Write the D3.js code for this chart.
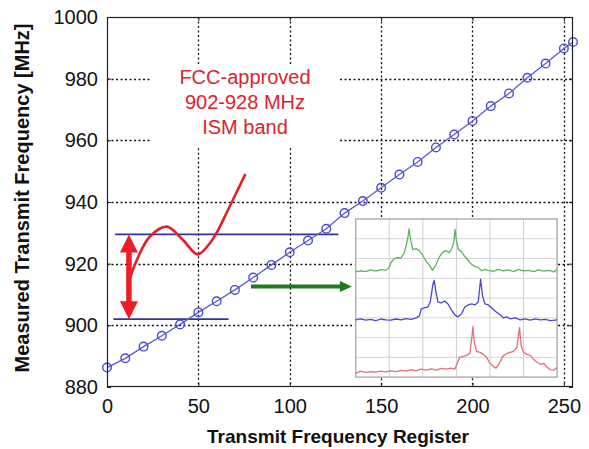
<!DOCTYPE html>
<html><head><meta charset="utf-8">
<script src="https://cdn.jsdelivr.net/npm/d3@7"></script>
<style>
html,body{margin:0;padding:0;background:#fff;}
svg{display:block;font-family:"Liberation Sans",Arial,sans-serif;}
</style></head>
<body>
<svg id="c" width="589" height="449"></svg>
<script>
// ---- data ----
const registers = [0,10,20,30,40,50,60,70,80,90,100,110,120,130,140,150,160,170,180,190,200,210,220,230,240,250,255];
const measuredMHz = [886.3,889.3,893.1,896.6,900.3,904.2,907.8,911.5,915.5,919.6,923.7,927.5,931.3,936.4,940.3,944.6,948.9,953.0,957.7,961.9,966.3,971.1,975.2,980.3,984.9,989.8,991.9];
const xTicks = [0,50,100,150,200,250];
const yTicks = [880,900,920,940,960,980,1000];
const bandLow = 902, bandHigh = 929.5;
const bandLowSpan = [3.5, 66.5];
const bandHighSpan = [4.4, 126.6];
const annotationLines = ["FCC-approved","902-928 MHz","ISM band"];
const annotationAnchor = [75.5, 962];
const redCurve = [[12.0,914.2],[16.3,921.2],[23.5,928.8],[32.7,932.0],[41.6,927.7],[49.6,923.0],[56.4,926.7],[60.8,930.9],[66.2,937.4],[75.5,948.8]];
const redArrowX = 12.0;
const greenArrow = [[78.8,912.6],[134.0,912.6]];
const insetBox = [136.1, 246.3, 934.5, 883.2]; // register left/right, MHz top/bottom
// inset spectra: [column 0..6, row 0..8 from top]
const specGreen = [[0,2.68],[0.15,2.62],[0.3,2.66],[0.45,2.58],[0.6,2.64],[0.75,2.56],[0.9,2.6],[1.0,2.45],[1.05,2.2],[1.15,2.0],[1.25,1.95],[1.35,1.98],[1.45,1.7],[1.55,1.0],[1.59,0.5],[1.63,1.0],[1.7,1.55],[1.8,1.5],[1.9,1.6],[2.0,1.85],[2.1,2.15],[2.2,2.35],[2.29,2.6],[2.38,2.35],[2.48,1.95],[2.58,1.7],[2.68,1.6],[2.78,1.7],[2.85,1.55],[2.92,1.2],[2.96,0.52],[3.0,1.1],[3.06,1.55],[3.15,1.65],[3.25,1.9],[3.35,2.1],[3.45,2.3],[3.55,2.4],[3.65,2.45],[3.75,2.62],[3.85,2.55],[3.95,2.6],[4.1,2.65],[4.25,2.55],[4.4,2.62],[4.55,2.58],[4.7,2.66],[4.85,2.55],[5.0,2.62],[5.15,2.6],[5.3,2.66],[5.45,2.58],[5.6,2.64],[5.75,2.6],[5.9,2.68],[6.0,2.55]];
const specBlue = [[0,5.1],[0.15,5.05],[0.3,5.12],[0.45,5.08],[0.6,5.14],[0.75,5.06],[0.9,5.1],[1.05,5.12],[1.2,5.06],[1.35,5.1],[1.5,5.04],[1.65,5.08],[1.8,5.0],[1.9,4.9],[1.95,4.55],[2.05,4.5],[2.15,4.45],[2.22,4.2],[2.3,3.3],[2.34,3.1],[2.38,3.6],[2.45,4.2],[2.55,4.25],[2.65,4.15],[2.75,4.3],[2.85,4.6],[2.95,4.85],[3.05,4.95],[3.15,4.8],[3.25,4.45],[3.35,4.35],[3.45,4.3],[3.55,4.35],[3.65,4.2],[3.72,3.05],[3.78,3.9],[3.85,4.3],[3.95,4.35],[4.05,4.5],[4.15,4.65],[4.3,4.85],[4.4,5.0],[4.5,4.95],[4.6,5.05],[4.75,5.0],[4.9,5.1],[5.05,5.05],[5.2,5.12],[5.35,5.05],[5.5,5.1],[5.65,5.08],[5.8,5.14],[6.0,5.1]];
const specRed = [[0,7.8],[0.15,7.7],[0.3,7.76],[0.45,7.72],[0.6,7.75],[0.75,7.7],[0.9,7.73],[1.05,7.68],[1.2,7.72],[1.35,7.66],[1.5,7.7],[1.65,7.62],[1.8,7.68],[1.95,7.6],[2.1,7.65],[2.25,7.58],[2.4,7.64],[2.55,7.56],[2.7,7.6],[2.85,7.55],[2.95,7.6],[3.0,7.4],[3.1,7.0],[3.2,6.95],[3.3,6.9],[3.4,6.8],[3.46,6.0],[3.49,5.45],[3.53,6.2],[3.6,6.7],[3.7,6.75],[3.8,6.85],[3.9,7.0],[4.0,7.3],[4.1,7.45],[4.18,7.55],[4.28,7.3],[4.38,6.95],[4.5,6.8],[4.6,6.75],[4.7,6.7],[4.8,6.5],[4.88,5.5],[4.93,6.4],[5.0,6.75],[5.1,6.85],[5.2,6.9],[5.3,7.1],[5.4,7.25],[5.5,7.35],[5.6,7.3],[5.7,7.5],[5.8,7.62],[5.9,7.65],[6.0,7.5]];
const insetCols = [0,1,2,3,4,5,6];
const insetRows = [0,1,2,3,4,5,6,7,8];

// ---- layout ----
const svg = d3.select("#c");
const L = 107, T = 17, R = 573, B = 387;
const x = d3.scaleLinear().domain([0,255]).range([L,R]);
const y = d3.scaleLinear().domain([880,1000]).range([B,T]);

// axes (ticks + labels)
const fmt = d3.format("d");
const xAxis = svg.append("g").attr("transform",`translate(0,${B})`)
  .call(d3.axisBottom(x).tickValues(xTicks).tickFormat(fmt).tickSizeInner(-4).tickSizeOuter(0).tickPadding(9));
const yAxis = svg.append("g").attr("transform",`translate(${L},0)`)
  .call(d3.axisLeft(y).tickValues(yTicks).tickFormat(fmt).tickSizeInner(-4).tickSizeOuter(0).tickPadding(9));
[xAxis,yAxis].forEach(a=>{
  a.select(".domain").remove();
  a.selectAll("text").attr("font-size",20).attr("fill","#111").attr("font-family","Liberation Sans, Arial, sans-serif");
  a.selectAll("line").attr("stroke","#222");
});
xAxis.selectAll("text").attr("dy","0.85em");
svg.append("g").attr("transform",`translate(0,${T})`)
  .call(d3.axisTop(x).tickValues(xTicks).tickSizeInner(-4).tickSizeOuter(0).tickFormat(""))
  .call(g=>{g.select(".domain").remove();g.selectAll("line").attr("stroke","#222");});
svg.append("g").attr("transform",`translate(${R},0)`)
  .call(d3.axisRight(y).tickValues(yTicks).tickSizeInner(-4).tickSizeOuter(0).tickFormat(""))
  .call(g=>{g.select(".domain").remove();g.selectAll("line").attr("stroke","#222");});

// axis titles
svg.append("text").attr("x",338).attr("y",443).attr("text-anchor","middle")
  .attr("font-size",19).attr("font-weight","bold").attr("fill","#111").text("Transmit Frequency Register");
svg.append("text").attr("transform","translate(29,198) rotate(-90)").attr("text-anchor","middle")
  .attr("font-size",20).attr("font-weight","bold").attr("fill","#111").text("Measured Transmit Frequency [MHz]");

// annotation text
const ax0 = x(annotationAnchor[0]), ay0 = y(annotationAnchor[1]);
const annText = svg.append("text").attr("text-anchor","middle").attr("fill","#dd2230").attr("font-size",20);
annotationLines.forEach((t,i)=>{
  annText.append("tspan").attr("x",ax0).attr("y",ay0-50+ i*25).text(t);
});
const annBox = [ax0-95, ay0-68, 190, 82];

// inset
const ix = d3.scaleLinear().domain([0,6]).range([x(insetBox[0]),x(insetBox[1])]);
const iy = d3.scaleLinear().domain([0,8]).range([y(insetBox[2]),y(insetBox[3])]);
const inset = svg.append("g");
inset.selectAll(".ic").data(insetCols).join("line").attr("x1",d=>ix(d)).attr("x2",d=>ix(d)).attr("y1",iy(0)).attr("y2",iy(8))
  .attr("stroke","#cfcfcf").attr("stroke-width",1);
inset.selectAll(".ir").data(insetRows).join("line").attr("y1",d=>iy(d)).attr("y2",d=>iy(d)).attr("x1",ix(0)).attr("x2",ix(6))
  .attr("stroke","#d6d6d6").attr("stroke-width",1);
inset.append("rect").attr("x",ix(0)).attr("y",iy(0)).attr("width",ix(6)-ix(0)).attr("height",iy(8)-iy(0))
  .attr("fill","none").attr("stroke","#aaa").attr("stroke-width",1.2);
const iline = d3.line().x(d=>ix(d[0])).y(d=>iy(d[1]));
[[specGreen,"#5fb55f"],[specBlue,"#4848cc"],[specRed,"#e0707a"]].forEach(([s,c])=>{
  inset.append("path").attr("d",iline(s)).attr("fill","none").attr("stroke",c).attr("stroke-width",1.3).attr("stroke-linejoin","round");
});

// grid (dotted), excluded from inset and annotation areas
const gridG = svg.append("g");
const segsV = [], segsH = [];
const inL = ix(0)-1, inR = ix(6)+1, inT = iy(0)-1, inB = iy(8)+1;
const [aL,aT,aW,aH] = annBox;
xTicks.filter(d=>d>0).forEach(d=>{
  const px = Math.round(x(d))+0.5;
  let ranges = [[T,B]];
  const cut = (lo,hi)=>{ ranges = ranges.flatMap(([a,b])=> (hi<=a||lo>=b)?[[a,b]]:[[a,lo],[hi,b]].filter(r=>r[1]-r[0]>1)); };
  if (px>inL && px<inR) cut(inT,inB);
  if (px>aL && px<aL+aW) cut(aT,aT+aH);
  ranges.forEach(r=>segsV.push(`M${px},${r[0]}V${r[1]}`));
});
yTicks.filter(d=>d>880&&d<1000).forEach(d=>{
  const py = Math.round(y(d))+0.5;
  let ranges = [[L,R]];
  const cut = (lo,hi)=>{ ranges = ranges.flatMap(([a,b])=> (hi<=a||lo>=b)?[[a,b]]:[[a,lo],[hi,b]].filter(r=>r[1]-r[0]>1)); };
  if (py>inT && py<inB) cut(inL,inR);
  if (py>aT && py<aT+aH) cut(aL,aL+aW);
  ranges.forEach(r=>segsH.push(`M${r[0]},${py}H${r[1]}`));
});
gridG.append("path").attr("d",segsV.join("")+segsH.join(""))
  .attr("stroke","#111").attr("stroke-width",1.3).attr("stroke-dasharray","2,2.5").attr("fill","none");

// band lines
const bandG = svg.append("g").attr("stroke","#33339a").attr("stroke-width",1.8);
bandG.append("line").attr("x1",x(bandHighSpan[0])).attr("x2",x(bandHighSpan[1])).attr("y1",y(bandHigh)).attr("y2",y(bandHigh));
bandG.append("line").attr("x1",x(bandLowSpan[0])).attr("x2",x(bandLowSpan[1])).attr("y1",y(bandLow)).attr("y2",y(bandLow));

// main series
const pts = registers.map((r,i)=>[r,measuredMHz[i]]);
svg.append("path").attr("d",d3.line().x(d=>x(d[0])).y(d=>y(d[1]))(pts))
  .attr("fill","none").attr("stroke","#5a5ad0").attr("stroke-width",1.3);
svg.append("g").selectAll("circle").data(pts).join("circle")
  .attr("cx",d=>x(d[0])).attr("cy",d=>y(d[1])).attr("r",4.3)
  .attr("fill","none").attr("stroke","#4a4ad8").attr("stroke-width",1.4);

// red curve
svg.append("path").attr("d",d3.line().curve(d3.curveCatmullRom.alpha(0.5)).x(d=>x(d[0])).y(d=>y(d[1]))(redCurve))
  .attr("fill","none").attr("stroke","#e0202a").attr("stroke-width",2.6).attr("stroke-linecap","round");

// red double arrow
const ax = x(redArrowX), aTop = y(bandHigh), aBot = y(bandLow);
const hl = 18, hw = 9;
svg.append("line").attr("x1",ax).attr("x2",ax).attr("y1",aTop+hl-2).attr("y2",aBot-hl+2)
  .attr("stroke","#ee1c24").attr("stroke-width",5.5);
svg.append("path").attr("d",`M${ax},${aTop}L${ax-hw},${aTop+hl}L${ax+hw},${aTop+hl}Z`).attr("fill","#ee1c24");
svg.append("path").attr("d",`M${ax},${aBot}L${ax-hw},${aBot-hl}L${ax+hw},${aBot-hl}Z`).attr("fill","#ee1c24");

// green arrow
const gx0 = x(greenArrow[0][0]), gx1 = x(greenArrow[1][0]), gy = y(greenArrow[0][1]);
svg.append("line").attr("x1",gx0).attr("x2",gx1-10).attr("y1",gy).attr("y2",gy).attr("stroke","#1e7b1e").attr("stroke-width",3.8);
svg.append("path").attr("d",`M${gx1},${gy}L${gx1-12},${gy-5.5}L${gx1-12},${gy+5.5}Z`).attr("fill","#1e7b1e");

// frame
svg.append("rect").attr("x",L+0.5).attr("y",T+0.5).attr("width",R-L-1).attr("height",B-T-1)
  .attr("fill","none").attr("stroke","#222").attr("stroke-width",1.2);
</script>
</body></html>
